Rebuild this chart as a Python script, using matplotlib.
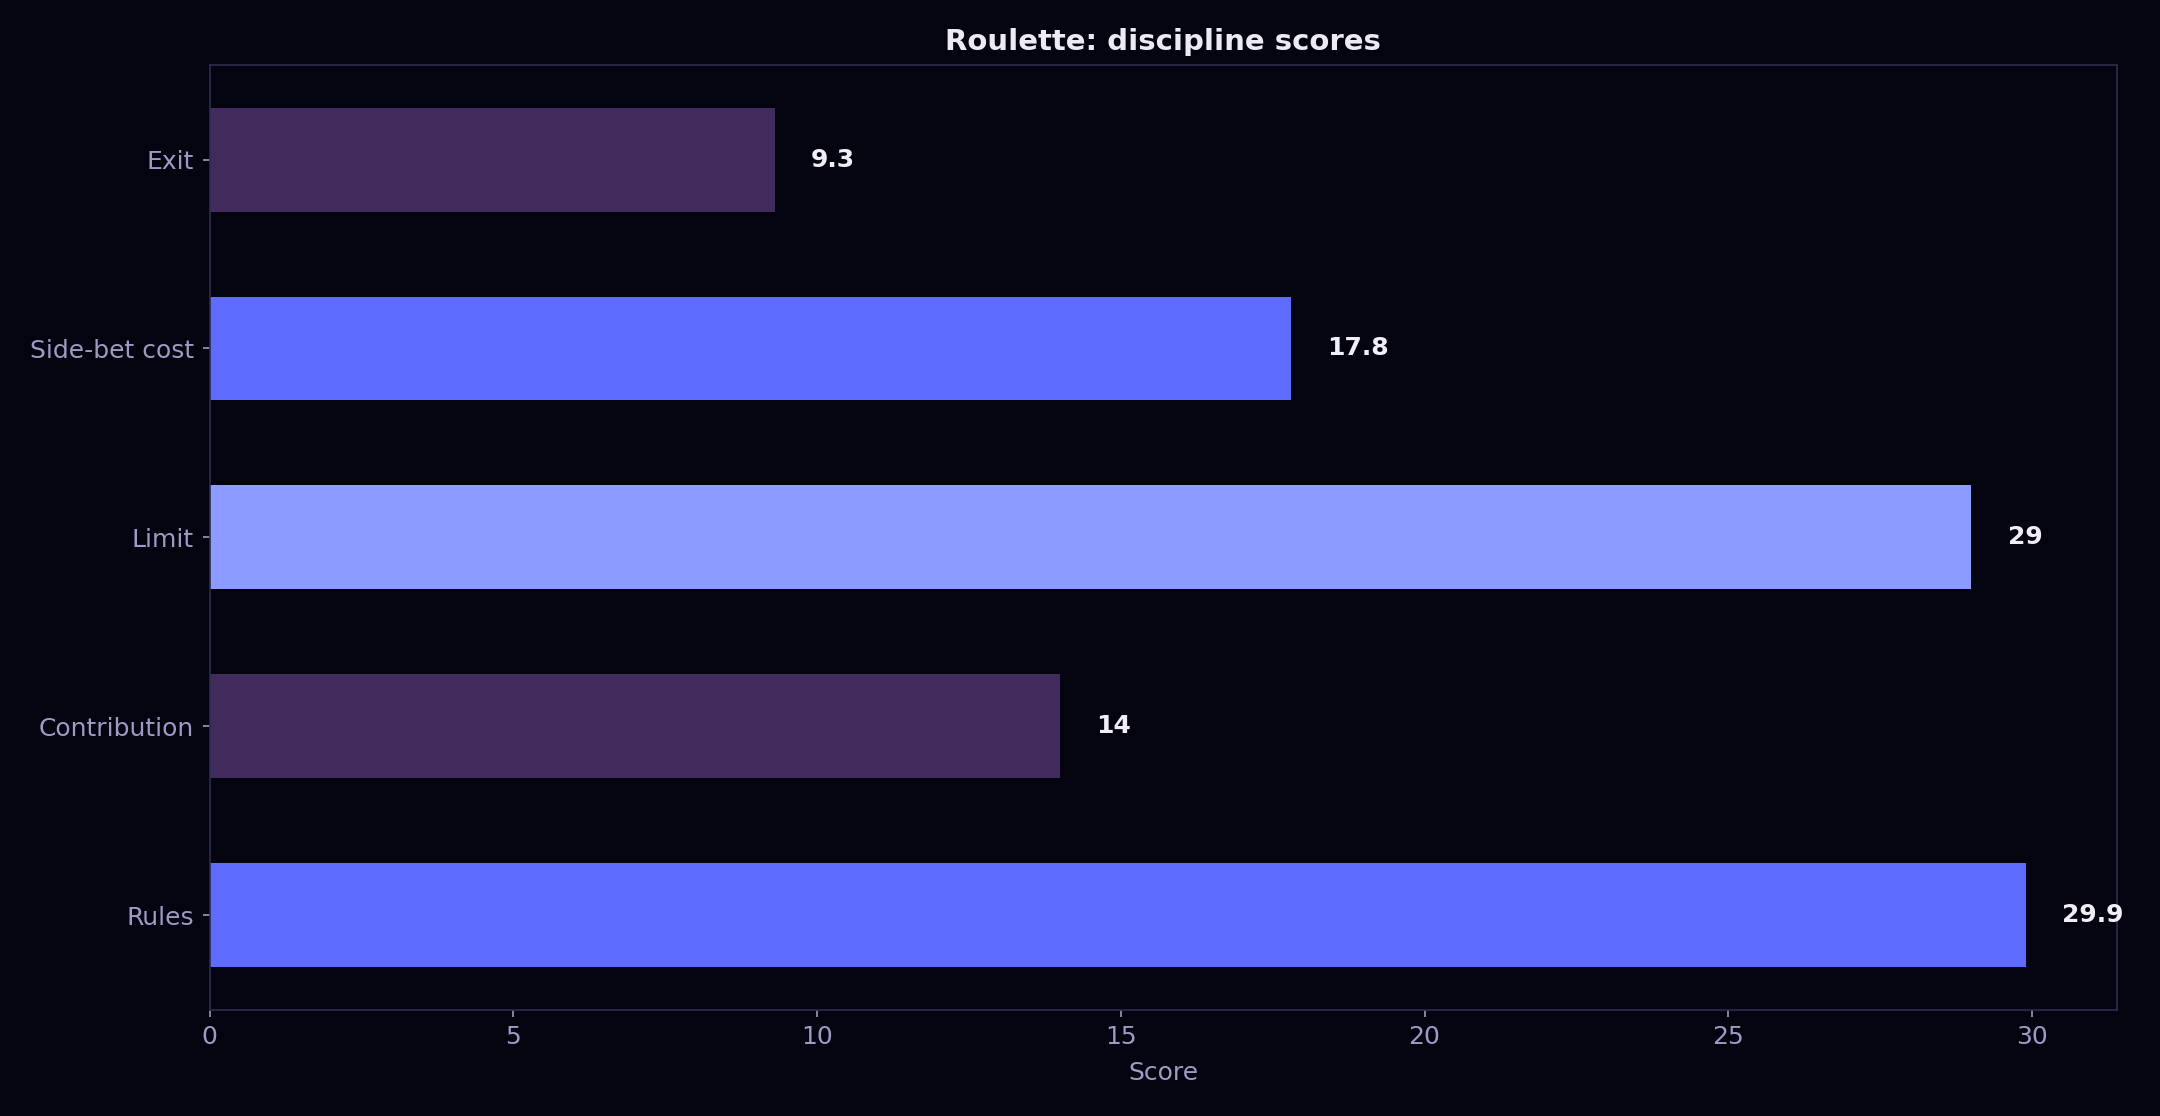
import matplotlib
matplotlib.use("Agg")
import matplotlib.pyplot as plt

# data (bottom to top)
categories = ["Rules", "Contribution", "Limit", "Side-bet cost", "Exit"]
scores = [29.9, 14, 29, 17.8, 9.3]
colors = ["#5d6bff", "#412b5c", "#8c9bff", "#5d6bff", "#412b5c"]

bg = "#03040f"
muted = "#9d9ac4"
spine = "#2e2c52"

fig, ax = plt.subplots(figsize=(14.4, 7.44), dpi=150)
fig.patch.set_facecolor(bg)
ax.set_facecolor(bg)

ax.barh(categories, scores, height=0.55, color=colors)

# value labels next to the bars
for i, v in enumerate(scores):
    ax.text(v + max(scores) * 0.02, i, f"{v:g}", va="center", ha="left",
            color="#f0eef8", fontsize=12, fontweight="bold")

ax.set_xlim(0, max(scores) * 1.05)
ax.set_title("Roulette: discipline scores", color="#ecebf5", fontsize=14,
             fontweight="bold", pad=7)
ax.set_xlabel("Score", color=muted, fontsize=12, labelpad=6)

for s in ax.spines.values():
    s.set_color(spine)
ax.tick_params(colors=muted, labelsize=12)
ax.tick_params(axis="both", color=muted)
ax.tick_params(axis="y", pad=4)

plt.subplots_adjust(left=0.097, right=0.98, top=0.942, bottom=0.095)
plt.savefig("out.png", facecolor=bg)
